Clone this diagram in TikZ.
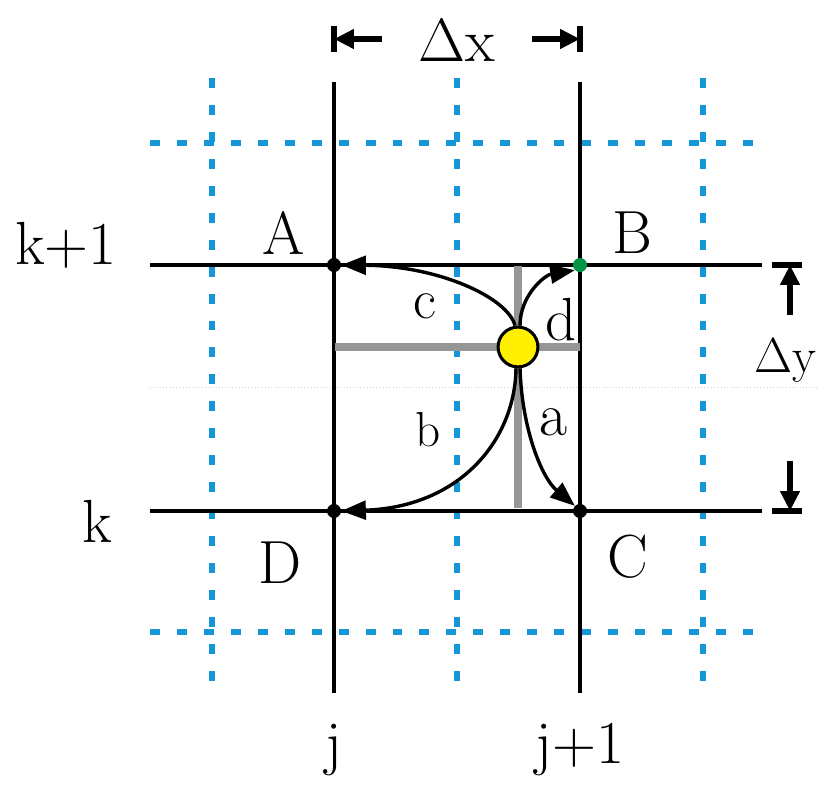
\documentclass[tikz,border=0pt]{standalone}
\usepackage{fontspec}
\usetikzlibrary{arrows.meta, positioning, calc}
\definecolor{GridBlue}{RGB}{20, 150, 215}
\definecolor{BarGrey}{RGB}{150, 150, 150}
\definecolor{PtGreen}{RGB}{0, 150, 70}
\definecolor{PtYellow}{RGB}{255, 240, 0}
\definecolor{FaintBlue}{RGB}{190, 215, 225}

\begin{document}
\begin{tikzpicture}[
        x = 0.03cm, y = -0.03cm,
        grid/.style = {line width = 3.4pt, black},
        aux/.style = {line width = 4.3pt, GridBlue, dash pattern = on 8.5pt off 14.5pt},
        bar/.style = {line width = 6pt, BarGrey},
        path/.style = {line width = 2.9pt, -{Triangle[length = 21pt, width = 16pt]}},
        dim/.style = {line width = 4.3pt, -{Triangle[length = 17pt, width = 16pt]}},
        dot/.style = {circle, fill = black, inner sep = 0pt, minimum size = 12pt},
        lbl/.style = {font = \fontsize{52}{56}\selectfont, inner sep = 0pt}
    ]
        \useasboundingbox (0, 0) rectangle (818, 784);

        % faint reference line
        \draw[FaintBlue, line width = 0.8pt, dotted] (150, 387) -- (818, 387);

        % blue auxiliary grid
        \foreach \xx in {212, 457, 703}
            \draw[aux] (\xx, 78) -- (\xx, 688);
        \foreach \yy in {143, 632}
            \draw[aux] (150, \yy) -- (760, \yy);

        % main grid
        \draw[grid] (334, 82) -- (334, 693);
        \draw[grid] (580, 82) -- (580, 693);
        \draw[grid] (150, 265) -- (762, 265);
        \draw[grid] (150, 511) -- (762, 511);

        % grey cross through the point
        \draw[bar] (335, 347) -- (580, 347);
        \draw[bar] (518, 266) -- (518, 508);

        % grid points
        \node[dot] (A) at (334, 265) {};
        \node[dot, fill = PtGreen] (B) at (580, 265) {};
        \node[dot] (C) at (580, 511) {};
        \node[dot] (D) at (334, 511) {};

        \node[circle, draw = black, line width = 2.6pt, fill = PtYellow, inner sep = 0pt, minimum size = 34pt] (P) at (518, 347) {};

        % paths from the point
        \draw[path] ($(P.north) + (-3, 0)$) .. controls (508, 298) and (440, 266) .. (A.east);
        \draw[path] ($(P.north) + (2, 0)$) .. controls (520, 295) and (545, 275) .. (B.south west);
        \draw[path] ($(P.south) + (-2, 0)$) .. controls (515, 440) and (460, 507) .. (D.east);
        \draw[path] ($(P.south) + (2, 0)$) .. controls (522, 430) and (542, 478) .. (C.north west);

        \node[lbl, font = \fontsize{48}{52}\selectfont] (lc) at (425, 306) {c};
        \node[lbl] (ld) at (561, 320) {d};
        \node[lbl, font = \fontsize{42}{46}\selectfont] (lb) at (428, 430) {b};
        \node[lbl] (la) at (553, 422) {a};

        % point names
        \node[lbl] (nA) at (284, 233) {A};
        \node[lbl] (nB) at (632, 233) {B};
        \node[lbl] (nC) at (628, 557) {C};
        \node[lbl] (nD) at (280, 563) {D};

        % index names
        \node[lbl] (k1) at (66, 245) {k+1};
        \node[lbl] (k0) at (97, 521) {k};
        \node[lbl] (j0) at (334, 750) {j};
        \node[lbl] (j1) at (580, 750) {j+1};

        % spacing marks
        \node[lbl] (dx) at (457, 40) {Δx};
        \coordinate (xl) at (334, 39);
        \coordinate (xr) at (580, 39);
        \draw[line width = 4.3pt] ($(xl) + (0, -13)$) -- ($(xl) + (0, 13)$);
        \draw[line width = 4.3pt] ($(xr) + (0, -13)$) -- ($(xr) + (0, 13)$);
        \draw[dim] ($(xl) + (48, 0)$) -- (xl);
        \draw[dim] ($(xr) + (-48, 0)$) -- (xr);

        \node[lbl, font = \fontsize{42}{46}\selectfont, anchor = east] (dy) at (817, 360) {Δy};
        \coordinate (yt) at (790, 265);
        \coordinate (yb) at (790, 511);
        \draw[line width = 4.3pt] ($(yt) + (-18, 0)$) -- ($(yt) + (12, 0)$);
        \draw[line width = 4.3pt] ($(yb) + (-18, 0)$) -- ($(yb) + (12, 0)$);
        \draw[dim] ($(yt) + (0, 50)$) -- (yt);
        \draw[dim] ($(yb) + (0, -50)$) -- (yb);
\end{tikzpicture}
\end{document}
